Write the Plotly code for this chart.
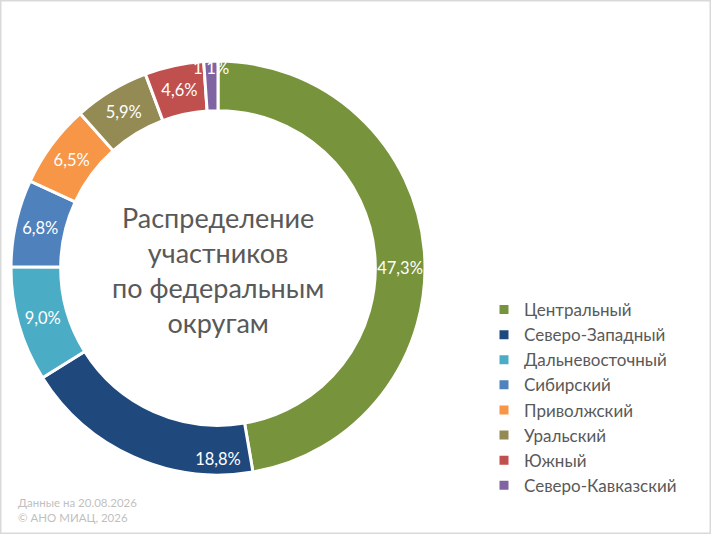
import plotly.graph_objects as go

# === DATA ===
districts = ['Центральный', 'Северо-Западный', 'Дальневосточный', 'Сибирский',
             'Приволжский', 'Уральский', 'Южный', 'Северо-Кавказский']
shares = [47.3, 18.8, 9.0, 6.8, 6.5, 5.9, 4.6, 1.1]
colors = ['#77933C', '#1F497D', '#4BACC6', '#4F81BD',
          '#F79646', '#948A54', '#C0504D', '#8064A2']

center_title = 'Распределение<br>участников<br>по федеральным<br>округам'
footer = 'Данные на 20.08.2026<br>© АНО МИАЦ, 2026'

# percent labels with comma decimal separator
labels_txt = [f'{v:.1f}%'.replace('.', ',') for v in shares]

W, H = 711, 534
cx, cy, r = 218, 268, 207

fig = go.Figure()

fig.add_trace(go.Pie(
    labels=districts,
    values=shares,
    text=labels_txt,
    textinfo='text',
    textposition='inside',
    insidetextorientation='horizontal',
    textfont=dict(color='white', size=16.5, family='Lato'),
    hole=0.76,
    sort=False,
    direction='clockwise',
    rotation=0,
    marker=dict(colors=colors, line=dict(color='white', width=3)),
    domain=dict(x=[(cx - r) / W, (cx + r) / W],
                y=[(H - cy - r) / H, (H - cy + r) / H]),
))

fig.add_annotation(
    x=cx / W, y=1 - 270 / H, xref='paper', yref='paper',
    xanchor='center', yanchor='middle',
    text=center_title, showarrow=False, align='center',
    font=dict(size=27, color='#595959', family='Lato'),
)

fig.add_annotation(
    x=16 / W, y=1 - 494 / H, xref='paper', yref='paper',
    xanchor='left', yanchor='top',
    text=footer, showarrow=False, align='left',
    font=dict(size=11.5, color='#BFBFBF', family='Lato'),
)

# light gray chart border
fig.add_shape(type='rect', xref='paper', yref='paper',
              x0=0, y0=0, x1=1, y1=1,
              line=dict(color='#D9D9D9', width=3))

fig.update_layout(
    width=W, height=H,
    margin=dict(l=0, r=0, t=0, b=0),
    paper_bgcolor='white',
    uniformtext=dict(minsize=16.5, mode='show'),
    legend=dict(x=484 / W, y=1 - 292 / H, xanchor='left', yanchor='top',
                font=dict(size=17, color='#595959', family='Lato'),
                itemwidth=30),
)

fig.write_html('out.html', config=dict(displayModeBar=False),
               post_script="document.body.style.margin='0';")
